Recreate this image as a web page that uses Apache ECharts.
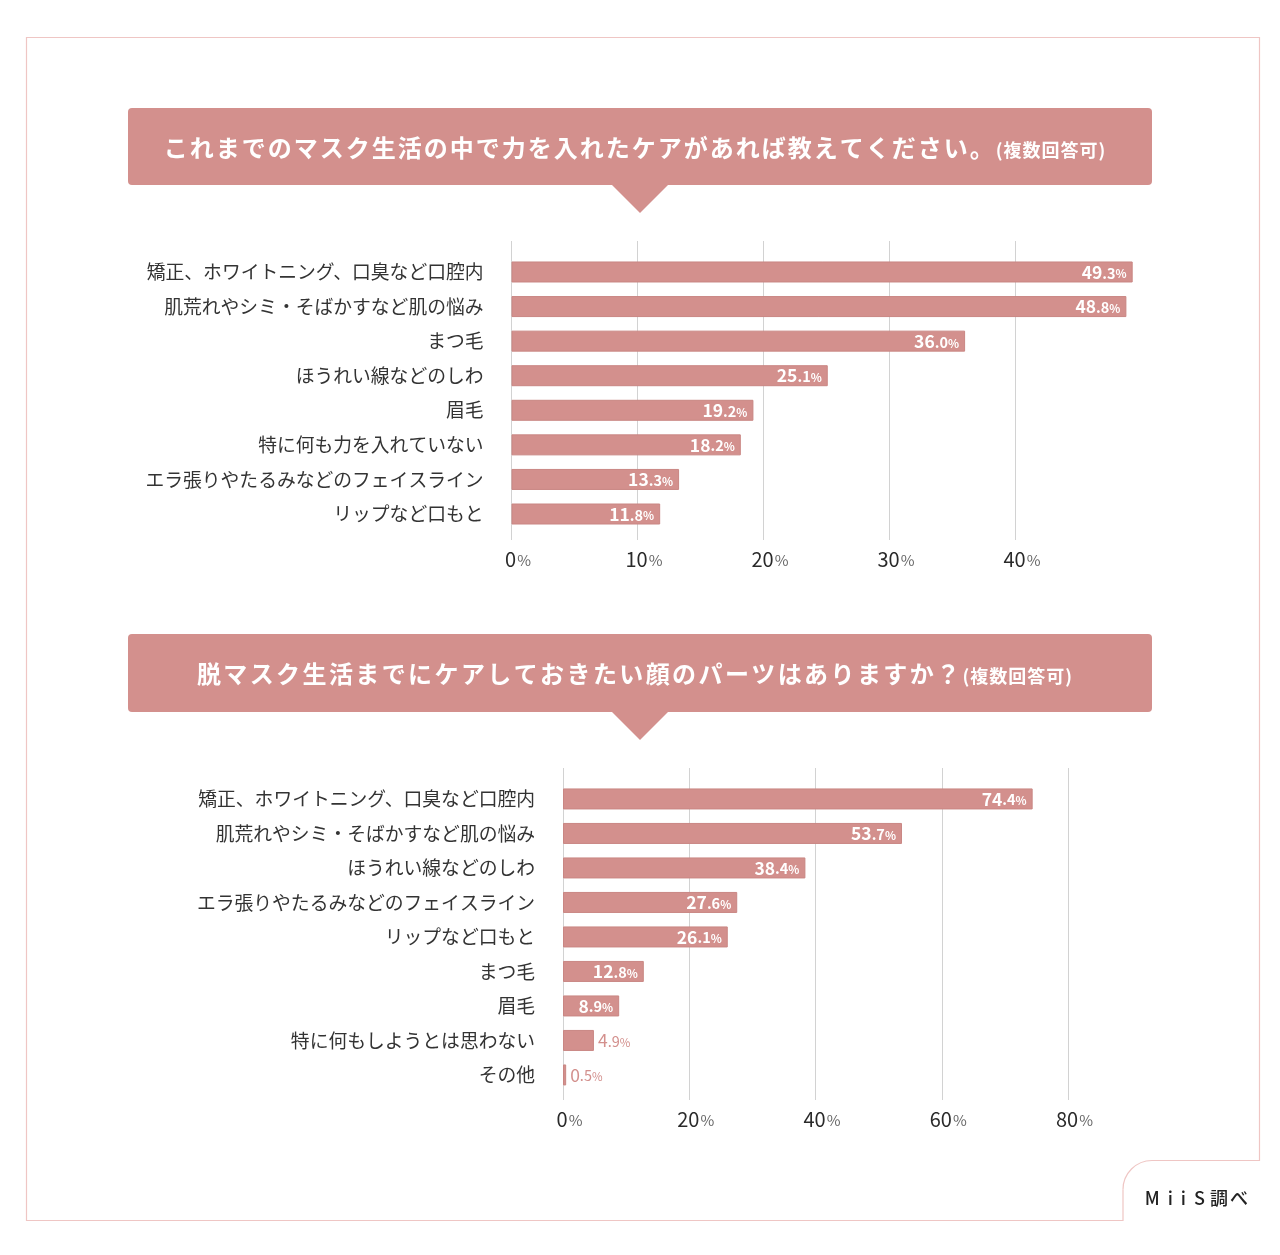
<!DOCTYPE html>
<html><head><meta charset="utf-8">
<script src="https://cdn.jsdelivr.net/npm/echarts@6/dist/echarts.min.js"></script>
<style>html,body{margin:0;padding:0;background:#fff}#c{width:1280px;height:1255px}</style>
</head><body><div id="c"></div>
<script>
// ---- data ----
const title1 = 'これまでのマスク生活の中で力を入れたケアがあれば教えてください。';
const title2 = '脱マスク生活までにケアしておきたい顔のパーツはありますか？';
const titleNote = '(複数回答可)';
const cats1 = ['矯正、ホワイトニング、口臭など口腔内', '肌荒れやシミ・そばかすなど肌の悩み', 'まつ毛', 'ほうれい線などのしわ', '眉毛', '特に何も力を入れていない', 'エラ張りやたるみなどのフェイスライン', 'リップなど口もと'];
const vals1 = [49.3, 48.8, 36.0, 25.1, 19.2, 18.2, 13.3, 11.8];
const cats2 = ['矯正、ホワイトニング、口臭など口腔内', '肌荒れやシミ・そばかすなど肌の悩み', 'ほうれい線などのしわ', 'エラ張りやたるみなどのフェイスライン', 'リップなど口もと', 'まつ毛', '眉毛', '特に何もしようとは思わない', 'その他'];
const vals2 = [74.4, 53.7, 38.4, 27.6, 26.1, 12.8, 8.9, 4.9, 0.5];
const ticks1 = [0, 10, 20, 30, 40];
const ticks2 = [0, 20, 40, 60, 80];
const sourceText = 'MiiS調べ';

// ---- style ----
const FONT = '"Noto Sans CJK JP", "Noto Sans", sans-serif';
const PINK = '#d3908d';
const BAR_BORDER = '#c98683';
const GRID_LINE = '#d2d2d2';
const FRAME = '#efc6c4';

// wrap each character in its own rich token so letter spacing can be applied
function spaced(str, tokenOf) {
  return str.split('').map(function (c) { return '{' + tokenOf(c) + '|' + c + '}'; }).join('');
}

function valueAxis(gridIndex, ticks, extraMax, showLabels) {
  const interval = ticks[1] - ticks[0];
  return {
    type: 'value', gridIndex: gridIndex, min: ticks[0], max: extraMax, interval: interval,
    axisLine: { show: false }, axisTick: { show: false },
    splitLine: showLabels ? { show: true, showMaxLine: extraMax === ticks[ticks.length - 1], lineStyle: { color: GRID_LINE, width: 1 } } : { show: false },
    axisLabel: showLabels ? {
      show: true, margin: 9, showMaxLabel: extraMax === ticks[ticks.length - 1],
      formatter: function (v) { return ticks.indexOf(v) >= 0 ? '{n|' + v + '}{p|%}' : ''; },
      rich: {
        n: { fontSize: 20, fontWeight: 'normal', color: '#2a2a2a', fontFamily: FONT, padding: [0, 0, 0, 13] },
        p: { fontSize: 15, fontWeight: 'normal', color: '#666', fontFamily: FONT, padding: [3, 0, 0, 1] }
      }
    } : { show: false }
  };
}

function labelFor(v) {
  const s = v.toFixed(1).split('.');
  const inside = v >= 8;
  const c = inside ? '#fff' : PINK;
  const w = inside ? 'bold' : 'normal';
  return {
    show: true,
    position: inside ? 'insideRight' : 'right',
    distance: inside ? 6 : 4,
    formatter: '{i|' + s[0] + '}{d|.' + s[1] + '}{p|%}',
    rich: {
      i: { fontSize: 17.5, fontWeight: w, color: c, fontFamily: FONT },
      d: { fontSize: 14.5, fontWeight: w, color: c, fontFamily: FONT, padding: [2, 0, 0, 0] },
      p: { fontSize: 11.5, fontWeight: w, color: c, fontFamily: FONT, padding: [4, 0, 0, 0] }
    }
  };
}

function barData(vals) {
  return vals.map(function (v) { return { value: v, label: labelFor(v) }; });
}

function banner(y, h, text, gap) {
  return [
    { type: 'rect', shape: { x: 128, y: y, width: 1024, height: h, r: 4 }, style: { fill: PINK } },
    { type: 'polygon', shape: { points: [[611, y + h - 1], [669, y + h - 1], [640, y + h + 28]] }, style: { fill: PINK } },
    { type: 'text', x: 635, y: y + h / 2 + 1, style: {
        text: spaced(text, function () { return 'a'; }) + spaced(titleNote, function () { return 'b'; }),
        align: 'center', verticalAlign: 'middle',
        rich: {
          a: { fontSize: 24, fontWeight: 'bold', fill: '#fff', fontFamily: FONT, padding: [0, gap, 0, 0] },
          b: { fontSize: 18, fontWeight: 'bold', fill: '#fff', fontFamily: FONT, padding: [5, 1, 0, 0] }
        }
      } }
  ];
}

const chart = echarts.init(document.getElementById('c'), null, { renderer: 'canvas' });
const option = {
  backgroundColor: '#fff',
  animation: false,
  textStyle: { fontFamily: FONT },
  grid: [
    { left: 511.5, width: 630, top: 254.7, height: 276.6 },
    { left: 511.5, width: 630, top: 241, height: 299 },
    { left: 563, width: 505, top: 781.7, height: 310.5 },
    { left: 563, width: 505, top: 768, height: 332 }
  ],
  xAxis: [
    Object.assign(valueAxis(0, ticks1, 50, false), { show: false }),
    valueAxis(1, ticks1, 50, true),
    Object.assign(valueAxis(2, ticks2, 80, false), { show: false }),
    valueAxis(3, ticks2, 80, true)
  ],
  yAxis: [
    { type: 'category', gridIndex: 0, data: cats1, inverse: true,
      axisLine: { show: false }, axisTick: { show: false }, splitLine: { show: false },
      axisLabel: { margin: 28, fontSize: 18.8, color: '#333', fontFamily: FONT } },
    { type: 'value', gridIndex: 1, min: 0, max: 1, show: false },
    { type: 'category', gridIndex: 2, data: cats2, inverse: true,
      axisLine: { show: false }, axisTick: { show: false }, splitLine: { show: false },
      axisLabel: { margin: 28, fontSize: 18.8, color: '#333', fontFamily: FONT } },
    { type: 'value', gridIndex: 3, min: 0, max: 1, show: false }
  ],
  series: [
    { type: 'bar', xAxisIndex: 0, yAxisIndex: 0, data: barData(vals1), barWidth: 21,
      itemStyle: { color: PINK, borderColor: BAR_BORDER, borderWidth: 1 }, z: 5 },
    { type: 'bar', xAxisIndex: 2, yAxisIndex: 2, data: barData(vals2), barWidth: 21,
      itemStyle: { color: PINK, borderColor: BAR_BORDER, borderWidth: 1 }, z: 5 }
  ],
  graphic: [].concat(
    [
      { type: 'polyline', shape: { points: [[1152, 1160.5], [1259.5, 1160.5], [1259.5, 37.5], [26.5, 37.5], [26.5, 1220.5], [1123, 1220.5], [1123, 1189.5]] },
        style: { fill: null, stroke: FRAME, lineWidth: 1.2 } },
      { type: 'arc', shape: { cx: 1152, cy: 1189.5, r: 29, startAngle: Math.PI, endAngle: Math.PI * 1.5, clockwise: true },
        style: { fill: null, stroke: FRAME, lineWidth: 1.2 } }
    ],
    banner(108, 77, title1, 2),
    banner(634, 78, title2, 2.4),
    [{ type: 'text', x: 1249, y: 1198, style: {
        text: spaced(sourceText, function (c) { return /[A-Za-z]/.test(c) ? 'l' : 'k'; }),
        align: 'right', verticalAlign: 'middle',
        rich: {
          l: { fontSize: 18, fontWeight: 500, fill: '#222', fontFamily: FONT, padding: [0, 4, 0, 4] },
          k: { fontSize: 18, fontWeight: 500, fill: '#222', fontFamily: FONT, padding: [0, 1, 0, 1] }
        }
      } }]
  )
};
chart.setOption(option);
</script>
</body></html>
